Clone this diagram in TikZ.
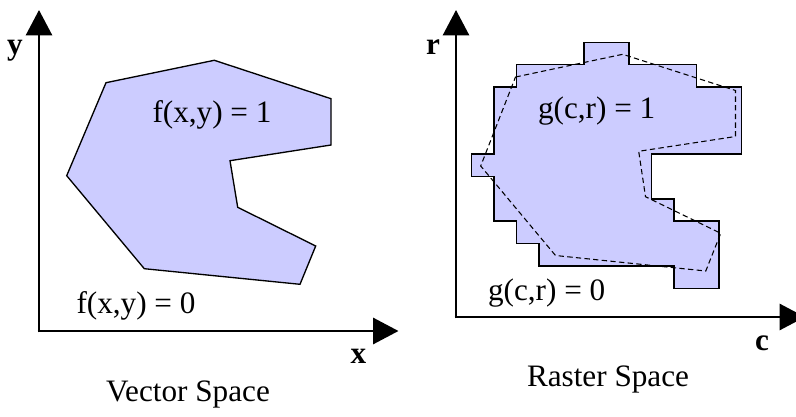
\documentclass[tikz,border=0pt]{standalone}
\usepackage{fontspec}
\setmainfont{Liberation Serif}
\usetikzlibrary{arrows.meta}
\definecolor{regionfill}{RGB}{204,204,255}
\tikzset{
  axis/.style={line width=2pt, -{Triangle[length=19pt,width=19.5pt]}},
  region/.style={fill=regionfill, draw=black, line width=1pt, line join=miter},
  outline/.style={draw=black, line width=0.8pt, dash pattern=on 4pt off 2.5pt},
  lbl/.style={anchor=base, inner sep=0pt, font=\fontsize{23.4pt}{28pt}\selectfont},
  axlbl/.style={anchor=base, inner sep=0pt, font=\fontsize{23.4pt}{28pt}\selectfont\bfseries}
}
\begin{document}
\begin{tikzpicture}[x=0.75pt,y=-0.75pt]
\useasboundingbox (0,0) rectangle (796,417);
\clip (0,0) rectangle (796,417);
% ---------- Vector space ----------
\filldraw[region] (106,82.7) -- (214.3,60.3) -- (331,98.7) -- (331,145) -- (230,160.7)
  -- (237.7,207.3) -- (315.7,246) -- (300,284.3) -- (144.3,268.7) -- (66.7,175.7) -- cycle;
\coordinate (vo) at (39,331);
\coordinate (vy) at (39,10);
\coordinate (vx) at (398.5,331);
\draw[axis] ([yshift=-1pt]vo) -- (vy);
\draw[axis] ([xshift=-1pt]vo) -- (vx);
\node[axlbl] (ylab) at (15,54.3) {y};
\node[axlbl] (xlab) at (358.3,363.3) {x};
\node[lbl] (f1) at (212,122.7) {f(x,y) = 1};
\node[lbl] (f0) at (136,313.3) {f(x,y) = 0};
\node[lbl] (vs) at (188,401.7) {Vector Space};
% ---------- Raster space ----------
\begin{scope}[shift={(471.7,42.3)}, x=16.875pt, y=-16.77pt]
\filldraw[region, line width=1.1pt] (5,0) -- (7,0) -- (7,1) -- (10,1) -- (10,2) -- (12,2) -- (12,5) -- (8,5)
  -- (8,7) -- (9,7) -- (9,8) -- (11,8) -- (11,11) -- (9,11) -- (9,10) -- (3,10)
  -- (3,9) -- (2,9) -- (2,8) -- (1,8) -- (1,6) -- (0,6) -- (0,5) -- (1,5) -- (1,2)
  -- (2,2) -- (2,1) -- (5,1) -- cycle;
\end{scope}
\draw[outline] (515.5,77) -- (622.7,54.3) -- (735.5,90.5) -- (735.5,136.5) -- (638.7,151.3)
  -- (645.5,196.7) -- (720.7,233.3) -- (705.8,271) -- (555.5,255.5) -- (480.7,166) -- cycle;
\coordinate (ro) at (456,317);
\coordinate (ry) at (456,10);
\coordinate (rx) at (805,317);
\draw[axis] ([yshift=-1pt]ro) -- (ry);
\draw[axis] ([xshift=-1pt]ro) -- (rx);
\node[axlbl] (rlab) at (433,55) {r};
\node[axlbl] (clab) at (762,350) {c};
\node[lbl] (g1) at (596.7,118.3) {g(c,r) = 1};
\node[lbl] (g0) at (546.7,300) {g(c,r) = 0};
\node[lbl] (rs) at (608,386.7) {Raster Space};
\end{tikzpicture}
\end{document}
